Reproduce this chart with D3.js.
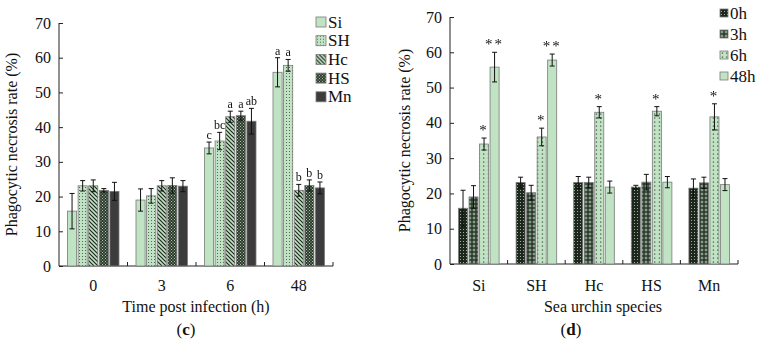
<!DOCTYPE html>
<html lang="en">
<head>
<meta charset="UTF-8">
<script src="https://d3js.org/d3.v7.min.js"></script>
<style>
  body { margin: 0; background: #fff; }
  text { font-family: "Liberation Serif", "Times New Roman", serif; fill: #111; }
</style>
</head>
<body>
<svg id="chart" width="760" height="344"></svg>
<script>
// species and sampling times
const species = ["Si", "SH", "Hc", "HS", "Mn"];
const times = ["0", "3", "6", "48"];
const timeLabels = ["0h", "3h", "6h", "48h"];
const yTicks = [0, 10, 20, 30, 40, 50, 60, 70];

// mean phagocytic necrosis rate (%) per species, at 0, 3, 6, 48 h
const meanSi = [15.8, 19.0, 34.0, 55.8];
const meanSH = [23.1, 20.2, 36.0, 57.8];
const meanHc = [23.1, 23.1, 43.0, 21.8];
const meanHS = [21.8, 23.2, 43.3, 23.2];
const meanMn = [21.5, 23.0, 41.7, 22.5];

// error bar half lengths
const errSi = [5.1, 3.2, 1.7, 4.2];
const errSH = [1.5, 2.1, 2.5, 1.7];
const errHc = [1.7, 1.5, 1.6, 1.7];
const errHS = [0.5, 2.2, 1.3, 1.6];
const errMn = [2.6, 1.6, 3.7, 1.7];

// significance letters (panel c) and stars (panel d)
const letters6h = ["c", "bc", "a", "a", "ab"];
const letters48h = ["a", "a", "b", "b", "b"];
const stars6h = ["*", "*", "*", "*", "*"];
const stars48h = ["**", "**", "", "", ""];

const means = [meanSi, meanSH, meanHc, meanHS, meanMn];
const errs = [errSi, errSH, errHc, errHS, errMn];

const svg = d3.select("#chart");
const defs = svg.append("defs");
const green = "#c0e3c3";
const dark = "#1e261e";

// identity filter: small labels get plain greyscale smoothing
defs.append("filter").attr("id", "flat").append("feOffset").attr("dx", 0).attr("dy", 0);

// fill patterns
function pat(id, w, h, bg, draw) {
  const p = defs.append("pattern").attr("id", id)
    .attr("patternUnits", "userSpaceOnUse").attr("width", w).attr("height", h);
  p.append("rect").attr("width", w).attr("height", h).attr("fill", bg);
  draw(p);
}
pat("pSH", 3, 3, green, p => {
  p.append("rect").attr("x", 1).attr("y", 1).attr("width", 0.9).attr("height", 0.9).attr("fill", "#3a4a3b");
});
pat("pHc", 4, 4, green, p => {
  p.append("path").attr("d", "M-1,-1 L5,5 M3,-1 L5,1 M-1,3 L1,5")
    .attr("stroke", "#202820").attr("stroke-width", 1.2);
});
pat("pHS", 3, 3, "#2f3a2f", p => {
  p.append("rect").attr("x", 0).attr("y", 0).attr("width", 1).attr("height", 1).attr("fill", "#a9c9ab");
  p.append("rect").attr("x", 1.5).attr("y", 1.5).attr("width", 1).attr("height", 1).attr("fill", "#a9c9ab");
});
pat("p0h", 3, 3, dark, p => {
  p.append("rect").attr("x", 1).attr("y", 1).attr("width", 1).attr("height", 1).attr("fill", "#8fb893");
});
pat("p3h", 4, 4, "#2d3a2e", p => {
  p.append("path").attr("d", "M2,0.6 V3.4 M0.6,2 H3.4").attr("stroke", "#b5d5b7").attr("stroke-width", 0.8);
});
pat("p6h", 4.5, 4, green, p => {
  p.append("rect").attr("x", 1.8).attr("y", 1.5).attr("width", 1).attr("height", 1.2).attr("fill", "#1f2a20");
});

const speciesFill = [green, "url(#pSH)", "url(#pHc)", "url(#pHS)", "#3c3c3c"];
const timeFill = ["url(#p0h)", "url(#p3h)", "url(#p6h)", green];

function panel(o) {
  const g = svg.append("g");
  const x0 = d3.scaleBand().domain(o.groups).range([o.left, o.right]);
  const x1 = d3.scaleBand().domain(o.series)
    .range([8.5, x0.bandwidth() - 8.5]).paddingInner(0.14);
  const y = d3.scaleLinear().domain([0, 70]).range([o.bottom, o.top]);

  // y axis, ticks pointing inward
  const ya = g.append("g").attr("transform", `translate(${o.left},0)`)
    .call(d3.axisRight(y).tickValues(yTicks).tickSize(4).tickFormat(""));
  ya.select(".domain").attr("d", `M0,${o.top}V${o.bottom}`);
  g.selectAll(".ytl").data(yTicks).join("text")
    .attr("x", o.left - 8).attr("y", d => y(d) + 5.5)
    .attr("text-anchor", "end").style("font-size", "16px").text(d => d);

  // x axis with group boundary ticks
  g.append("line").attr("x1", o.left).attr("x2", o.right)
    .attr("y1", o.bottom).attr("y2", o.bottom).attr("stroke", "#222");
  g.selectAll(".xt").data(o.groups.slice(1).map(d => x0(d)).concat([o.right])).join("line")
    .attr("x1", d => d).attr("x2", d => d)
    .attr("y1", o.bottom).attr("y2", o.bottom - 4).attr("stroke", "#222");
  g.selectAll(".xtl").data(o.groups).join("text")
    .attr("x", d => x0(d) + x0.bandwidth() / 2).attr("y", 290.5)
    .attr("text-anchor", "middle").style("font-size", "16px")
    .text((d, i) => o.groupLabels[i]);
  g.selectAll("path.domain, .tick line").attr("stroke", "#222");

  // bars
  const cells = [];
  o.groups.forEach((gr, gi) => o.series.forEach((s, si) => {
    cells.push({ gr, s, gi, si, v: o.value(gi, si), e: o.err(gi, si), lab: o.mark(gi, si) });
  }));
  const bx = d => x0(d.gr) + x1(d.s);
  g.selectAll(".bar").data(cells).join("rect")
    .attr("x", bx).attr("y", d => y(d.v))
    .attr("width", x1.bandwidth()).attr("height", d => o.bottom - y(d.v))
    .attr("fill", d => o.fill[d.si]).attr("stroke", "#7a7a7a").attr("stroke-width", 0.8);

  // error bars
  const cx = d => bx(d) + x1.bandwidth() / 2;
  const eb = g.selectAll(".eb").data(cells).join("g").attr("stroke", "#111").attr("stroke-width", 1);
  eb.append("line").attr("x1", cx).attr("x2", cx)
    .attr("y1", d => y(d.v - d.e)).attr("y2", d => y(d.v + d.e));
  eb.append("line").attr("x1", d => cx(d) - 2.5).attr("x2", d => cx(d) + 2.5)
    .attr("y1", d => y(d.v + d.e)).attr("y2", d => y(d.v + d.e));
  eb.append("line").attr("x1", d => cx(d) - 2.5).attr("x2", d => cx(d) + 2.5)
    .attr("y1", d => y(d.v - d.e)).attr("y2", d => y(d.v - d.e));

  // letters / stars
  g.append("g").attr("filter", "url(#flat)")
    .selectAll("text").data(cells.filter(d => d.lab)).join("text")
    .attr("x", cx).attr("y", d => y(d.v + d.e) - o.markGap)
    .attr("text-anchor", "middle").style("font-size", o.markSize)
    .style("letter-spacing", o.markSpacing).text(d => d.lab);

  // axis titles
  g.append("text").attr("transform", `translate(${o.ytX},${(o.top + o.bottom) / 2}) rotate(-90)`)
    .attr("text-anchor", "middle").style("font-size", "16px").text("Phagocytic necrosis rate (%)");
  g.append("text").attr("x", o.xtX).attr("y", 312).attr("text-anchor", "middle")
    .style("font-size", "16px").text(o.xTitle);
  const tag = g.append("text").attr("x", o.tagX).attr("y", 335).attr("text-anchor", "middle")
    .style("font-size", "17px");
  tag.append("tspan").text("(");
  tag.append("tspan").style("font-weight", "bold").text(o.tag);
  tag.append("tspan").text(")");

  // legend
  const lg = g.selectAll(".lg").data(o.series).join("g")
    .attr("transform", (d, i) => `translate(${o.lgX},${o.lgY + i * o.lgStep})`);
  lg.append("rect").attr("x", 0).attr("y", -o.sw / 2).attr("width", o.sw).attr("height", o.sw)
    .attr("fill", (d, i) => o.fill[i]).attr("stroke", "#7a7a7a").attr("stroke-width", 0.8);
  lg.append("text").attr("x", o.sw + 2).attr("y", 5.5).style("font-size", "17px")
    .text((d, i) => o.legendLabels[i]);
}

// (c) grouped by time
panel({
  groups: times, groupLabels: times, series: species, legendLabels: species,
  left: 59, right: 333, top: 23, bottom: 266,
  value: (gi, si) => means[si][gi], err: (gi, si) => errs[si][gi],
  mark: (gi, si) => gi === 2 ? letters6h[si] : gi === 3 ? letters48h[si] : "",
  markGap: 3, markSize: "12px", markSpacing: "0px",
  fill: speciesFill, ytX: 17, xtX: 196, xTitle: "Time post infection (h)", tagX: 186, tag: "c",
  lgX: 316, lgY: 22, lgStep: 18.7, sw: 10
});

// (d) grouped by species
panel({
  groups: species, groupLabels: species, series: timeLabels, legendLabels: timeLabels,
  left: 450, right: 738, top: 17, bottom: 264,
  value: (gi, si) => means[gi][si], err: (gi, si) => errs[gi][si],
  mark: (gi, si) => si === 2 ? stars6h[gi] : si === 3 ? stars48h[gi] : "",
  markGap: 3, markSize: "15px", markSpacing: "2px",
  fill: timeFill, ytX: 410, xtX: 603, xTitle: "Sea urchin species", tagX: 571, tag: "d",
  lgX: 720, lgY: 13, lgStep: 21, sw: 8
});
</script>
</body>
</html>
